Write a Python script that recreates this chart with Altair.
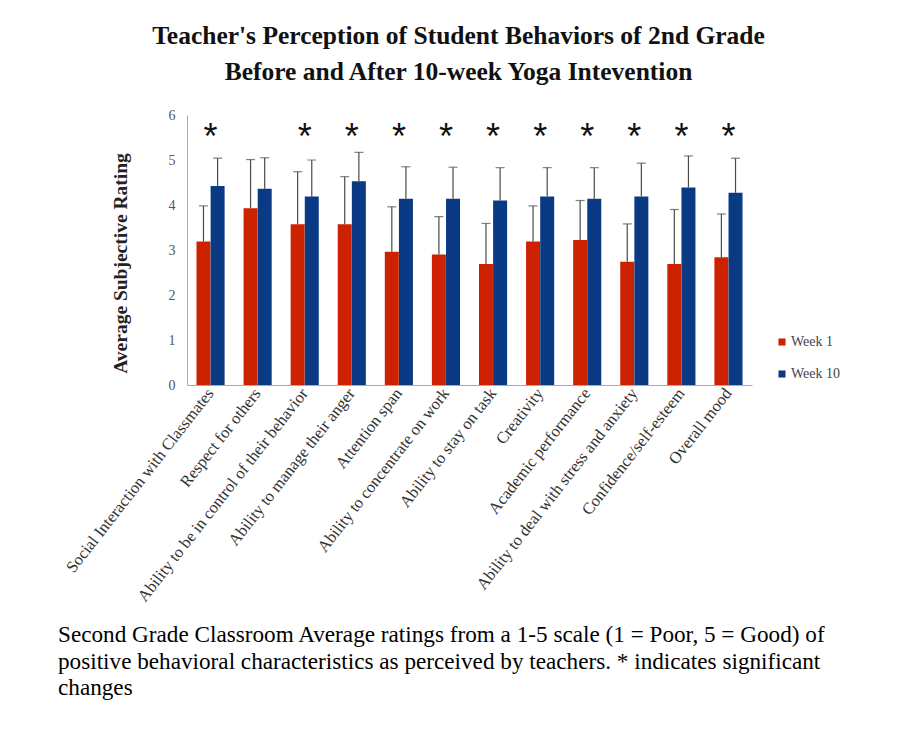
import altair as alt
import pandas as pd

categories = [
    "Social Interaction with Classmates",
    "Respect for others",
    "Ability to be in control of their behavior",
    "Ability to manage their anger",
    "Attention span",
    "Ability to concentrate on work",
    "Ability to stay on task",
    "Creativity",
    "Academic performance",
    "Ability to deal with stress and anxiety",
    "Confidence/self-esteem",
    "Overall mood",
]
week1 = [3.19, 3.93, 3.57, 3.57, 2.96, 2.90, 2.69, 3.19, 3.22, 2.74, 2.69, 2.84]
week1_err_top = [3.98, 5.01, 4.74, 4.63, 3.96, 3.74, 3.59, 3.98, 4.10, 3.58, 3.90, 3.80]
week10 = [4.42, 4.36, 4.19, 4.53, 4.14, 4.14, 4.10, 4.19, 4.14, 4.19, 4.39, 4.27]
week10_err_top = [5.04, 5.05, 5.00, 5.17, 4.85, 4.84, 4.83, 4.83, 4.83, 4.93, 5.09, 5.04]
significant = [True, False, True, True, True, True, True, True, True, True, True, True]
series = ["Week 1", "Week 10"]
colors = ["#cc2200", "#0b3a84"]

title_lines = [
    "Teacher's Perception of Student Behaviors of 2nd Grade",
    "Before and After 10-week Yoga Intevention",
]
caption_lines = [
    "Second Grade Classroom Average ratings from a 1-5 scale (1 = Poor, 5 = Good) of",
    "positive behavioral characteristics as perceived by teachers. * indicates significant",
    "changes",
]

rows = []
for i, c in enumerate(categories):
    rows.append({"cat": c, "week": series[0], "val": week1[i], "top": week1_err_top[i]})
    rows.append({"cat": c, "week": series[1], "val": week10[i], "top": week10_err_top[i]})
df = pd.DataFrame(rows)
stars = pd.DataFrame({"cat": [c for c, s in zip(categories, significant) if s], "star": "*"})
caption_df = pd.DataFrame({"caption": ["\n".join(caption_lines)]})

serif = "Liberation Serif"

x_enc = alt.X(
    "cat:N",
    sort=categories,
    title=None,
    scale=alt.Scale(paddingInner=0.4, paddingOuter=0.2),
    axis=alt.Axis(
        title=None,
        labelAngle=-52,
        labelFont=serif,
        labelFontSize=16.5,
        labelColor="#333333",
        labelPadding=5,
        labelLimit=400,
        ticks=False,
        domainColor="#aaaaaa",
    ),
)
xoff = alt.XOffset("week:N", sort=series, scale=alt.Scale(paddingInner=0, paddingOuter=0))

y_axis = alt.Axis(
    title="Average Subjective Rating",
    values=[0, 1, 2, 3, 4, 5, 6],
    grid=False,
    ticks=False,
    labelFont=serif,
    labelFontSize=14,
    labelColor="#555555",
    labelPadding=12,
    domainColor="#aaaaaa",
    titleFont=serif,
    titleFontSize=19.5,
    titleFontWeight="bold",
    titleColor="#222222",
    titleAngle=-90,
    titleX=-67,
    titleY=148,
    titleAlign="center",
    titleBaseline="middle",
)
y_scale = alt.Scale(domain=[0, 6], nice=False)
y_enc = alt.Y("val:Q", scale=y_scale, axis=y_axis)
y_top = alt.Y("top:Q", scale=y_scale, axis=y_axis)

color_enc = alt.Color(
    "week:N",
    sort=series,
    scale=alt.Scale(domain=series, range=colors),
    legend=alt.Legend(
        title=None,
        orient="none",
        legendX=588,
        legendY=220,
        padding=0,
        symbolType="square",
        symbolSize=50,
        symbolStrokeWidth=0,
        labelFont=serif,
        labelFontSize=14,
        labelColor="#444444",
        labelOffset=2,
        rowPadding=18,
    ),
)

bars = alt.Chart(df).mark_bar(size=14).encode(x=x_enc, xOffset=xoff, y=y_enc, color=color_enc)

err = alt.Chart(df).mark_rule(color="#4a4a4a", strokeWidth=1.2).encode(
    x=x_enc, xOffset=xoff, y=y_enc, y2="top:Q"
)
caps = alt.Chart(df).mark_tick(color="#4a4a4a", thickness=1.2, size=9).encode(
    x=x_enc, xOffset=xoff, y=y_top
)
star_text = alt.Chart(stars).mark_text(
    font="Liberation Sans", fontSize=36, baseline="alphabetic", color="#111111"
).encode(x=x_enc, y=alt.datum(5.25), text="star:N")

caption = alt.Chart(caption_df).mark_text(
    font=serif,
    fontSize=23.2,
    align="left",
    baseline="alphabetic",
    lineBreak="\n",
    lineHeight=26.5,
    color="#000000",
).encode(x=alt.value(-129), y=alt.value(527), text="caption:N")

chart = (
    alt.layer(bars, err, caps, star_text, caption)
    .properties(
        width=565,
        height=270,
        autosize=alt.AutoSizeParams(type="none"),
        padding={"left": 179, "top": 107, "right": 136, "bottom": 350},
        title=alt.Title(
            title_lines,
            font=serif,
            fontSize=25.5,
            fontWeight="bold",
            color="#111111",
            anchor="middle",
            lineHeight=36,
            offset=23,
            dx=-11,
        ),
    )
    .configure_view(stroke=None)
)

chart.save("out.html", embed_options={"renderer": "svg", "actions": False})
